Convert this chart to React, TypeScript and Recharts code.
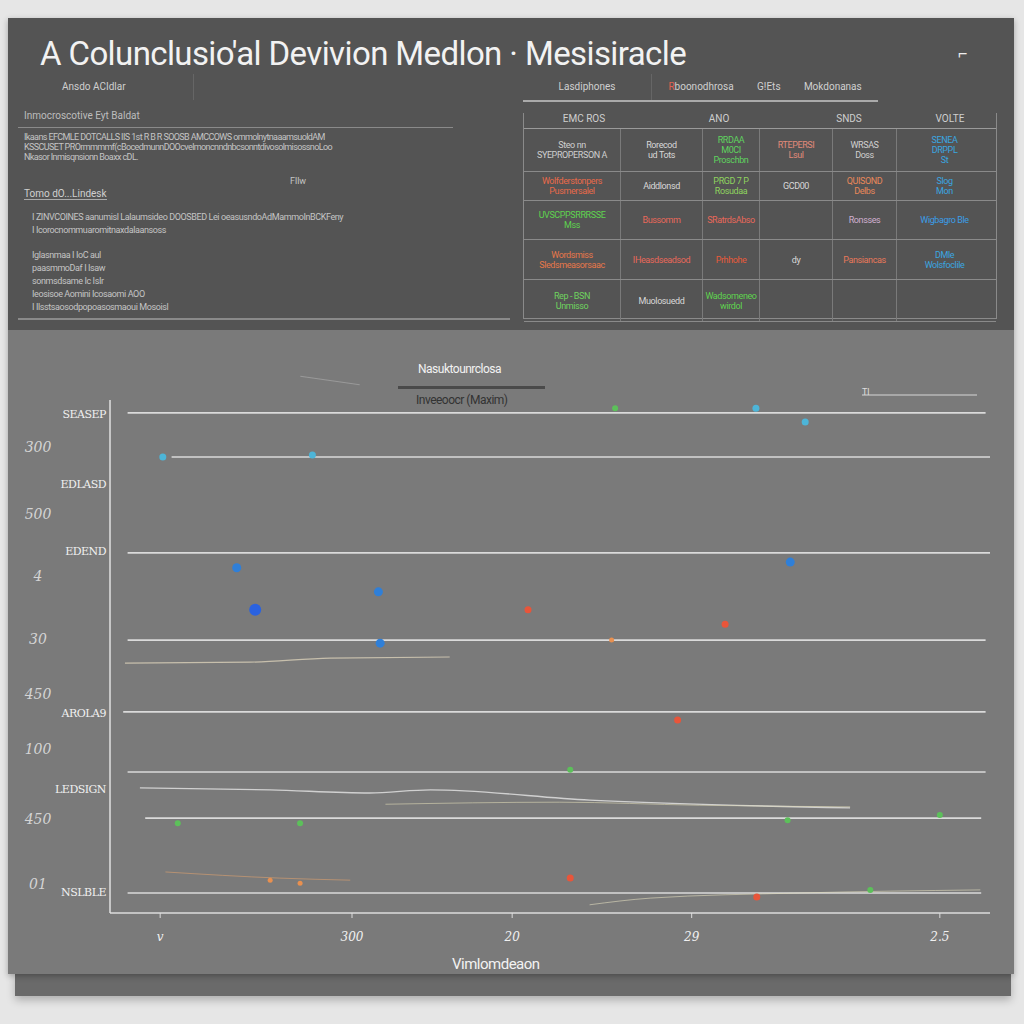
import React from 'react';
import { ComposedChart, XAxis, YAxis, Scatter, Line, ReferenceLine } from 'recharts';

// axis ticks
const xTickValues = [5.7, 27.5, 45.7, 66.1, 94.3];
const xTickLabels = ['v', '300', '20', '29', '2.5'];
const innerTickValues = [97.1, 83.4, 70.4, 38.8, 24.0, 3.9];
const innerTickLabels = ['SEASEP', 'EDLASD', 'EDEND', 'AROLA9', 'LEDSIGN', 'NSLBLE'];
const outerTickValues = [90.6, 77.6, 65.5, 53.2, 42.5, 31.8, 18.1, 5.5];
const outerTickLabels = ['300', '500', '4', '30', '450', '100', '450', '01'];

// horizontal rules
const ruleValues = [97.5, 88.9, 70.2, 53.2, 39.2, 27.5, 18.5, 3.9];
const ruleStarts = [2, 7, 2, 2, 1.5, 2, 4, 2];
const ruleEnds = [99.5, 100, 100, 99.5, 99.5, 99.5, 99, 99];

// scatter marks
const cyanX = [6.0, 23.0, 73.4, 79.0];
const cyanY = [88.9, 89.3, 98.4, 95.7];
const blueX = [14.4, 30.5, 77.3, 30.7];
const blueY = [67.3, 62.6, 68.4, 52.6];
const bigBlueX = [16.5];
const bigBlueY = [59.1];
const redX = [47.5, 69.9, 64.5, 52.3, 73.5];
const redY = [59.1, 56.3, 37.6, 6.8, 3.1];
const greenX = [57.4, 52.3, 7.7, 21.6, 77.0, 94.3, 86.4];
const greenY = [98.4, 27.9, 17.5, 17.5, 18.1, 19.1, 4.5];
const orangeX = [18.2, 21.6, 57.0];
const orangeY = [6.4, 5.8, 53.2];

// faint traces
const traceAX = [1.7, 15.9, 25.0, 38.6];
const traceAY = [48.7, 48.9, 49.7, 49.9];
const traceBX = [3.4, 18.2, 29.5, 36.4, 54.5, 84.1];
const traceBY = [24.4, 24.0, 23.4, 24.0, 22.0, 20.5];
const traceCX = [31.3, 51.1, 67.0, 84.1];
const traceCY = [21.2, 21.6, 21.0, 20.7];
const traceDX = [6.3, 19.3, 27.3];
const traceDY = [8.0, 6.8, 6.4];
const traceEX = [54.5, 61.4, 78.4, 98.9];
const traceEY = [1.6, 2.9, 3.9, 4.5];

const pts = (xs: number[], ys: number[]) => xs.map((x, i) => ({ x, y: ys[i] }));

// table in the top right
const tabs = ['Lasdiphones', 'Rboonodhrosa', 'G!Ets', 'Mokdonanas'];
const tableHeads = ['EMC ROS', 'ANO', 'SNDS', 'VOLTE'];
const tableRows: [string, string][][] = [
  [['Steo nn|SYEPROPERSON A', '#cfcfcf'], ['Rorecod|ud Tots', '#d8d8d8'], ['RRDAA|M0CI|Proschbn', '#5fd35f'], ['RTEPERSI|Lsul', '#e08a7a'], ['WRSAS|Doss', '#d0d0d0'], ['SENEA|DRPPL|St', '#3aa6e0']],
  [['Wolfderstonpers|Pusmersalel', '#e86a4a'], ['Aiddlonsd', '#d8d8d8'], ['PRGD 7 P|Rosudaa', '#8fd35f'], ['GCD00', '#d8d8d8'], ['QUISOND|Delbs', '#e8885a'], ['Slog|Mon', '#3aa6e0']],
  [['UVSCPPSRRRSSE|Mss', '#5fd34f'], ['Bussomm', '#e8685a'], ['SRatrdsAbso', '#e8685a'], ['', '#ccc'], ['Ronsses', '#d0b0d0'], ['Wigbagro Ble', '#3a9ee8']],
  [['Wordsmiss|Sledsmeasorsaac', '#e8784a'], ['IHeasdseadsod', '#e8685a'], ['Prhhohe', '#e85a3a'], ['dy', '#d8d8d8'], ['Pansiancas', '#e8785a'], ['DMle|Wolsfoclile', '#3aa6e0']],
  [['Rep - BSN|Unmisso', '#6fd35f'], ['Muolosuedd', '#d8d8d8'], ['Wadsomeneo|wirdol', '#5fd34f'], ['', '#ccc'], ['', '#ccc'], ['', '#ccc']],
];
const colWidths = [96, 81, 56, 72, 63, 95];
const rowHeights = [42, 28, 38, 39, 41];

const infoLines = [
  'Ikaans EFCMLE DOTCALLS IIS  1st R B R SOOSB AMCCOWS ommolnytnaaamsuoldAM',
  'KSSCUSET PROrmmmmf(cBocedmunnDOOcvelmoncnndnbcsonntdivosolmisossnoLoo',
  'Nkasor Inmisqnsionn Boaxx cDL.',
];
const bulletLines = [
  'I ZINVCOINES aanumisl Lalaumsideo DOOSBED Lei                 oeasusndoAdMammoInBCKFeny',
  'I Icorocnommuaromitnaxdalaansoss',
  'Iglasnmaa I IoC aul',
  'paasmmoDaf I Isaw',
  'sonmsdsame Ic IsIr',
  'Ieosisoe Aomini Icosaomi AOO',
  'I Ilsstsaosodpopoasosmaoui Mosoisl',
];

const YTick = (props: any) => {
  const { y, payload } = props;
  const i = innerTickValues.indexOf(payload.value);
  if (i >= 0) {
    return (
      <text x={106} y={y} textAnchor="end" dominantBaseline="middle" fill="#f0f0f0" fontSize={11} fontFamily="DejaVu Serif" letterSpacing={-0.5}>
        {innerTickLabels[i]}
      </text>
    );
  }
  const j = outerTickValues.indexOf(payload.value);
  return (
    <text x={38} y={y} textAnchor="middle" dominantBaseline="middle" fill="#d4d4d4" fontSize={14} fontStyle="italic" fontFamily="DejaVu Serif">
      {outerTickLabels[j]}
    </text>
  );
};

const dot = (r: number, fill: string) => (p: any) => <circle cx={p.cx} cy={p.cy} r={r} fill={fill} />;

export default function App() {
  return (
    <div style={{ position: 'absolute', left: 0, top: 0, width: 1024, height: 1024, background: '#e6e6e6', fontFamily: 'Roboto, sans-serif', overflow: 'hidden' }}>
      {/* bottom strip */}
      <div style={{ position: 'absolute', left: 15, top: 972, width: 996, height: 24, background: '#6a6a6a', boxShadow: '0 4px 8px rgba(0,0,0,0.25)' }} />
      {/* card */}
      <div style={{ position: 'absolute', left: 8, top: 18, width: 1006, height: 956, background: '#7a7a7a', boxShadow: '0 2px 6px rgba(0,0,0,0.3)' }} />
      {/* top dark panel */}
      <div style={{ position: 'absolute', left: 8, top: 18, width: 1006, height: 312, background: '#545454' }}>
        <div style={{ position: 'absolute', left: 32, top: 16, fontSize: 33, color: '#f2f2f2', letterSpacing: -0.6, whiteSpace: 'nowrap' }}>
          A Colunclusio'al Devivion Medlon · Mesisiracle
        </div>
        <div style={{ position: 'absolute', left: 950, top: 26, fontSize: 16, color: '#eee' }}>⌐</div>
        {/* left tab strip */}
        <div style={{ position: 'absolute', left: 6, top: 56, width: 180, height: 26, borderRight: '1px solid #666', color: '#cfcfcf', fontSize: 10, lineHeight: '26px', paddingLeft: 48, boxSizing: 'border-box' }}>
          Ansdo ACIdlar
        </div>
        {/* info box */}
        <div style={{ position: 'absolute', left: 10, top: 84, width: 492, height: 216, borderBottom: '2px solid #8a8a8a', color: '#c4c4c4', fontSize: 9 }}>
          <div style={{ position: 'absolute', left: 6, top: 8, fontSize: 10, color: '#bdbdbd' }}>Inmocroscotive Eyt Baldat</div>
          <div style={{ position: 'absolute', left: 0, top: 25, width: 435, borderTop: '1px solid #8a8a8a' }} />
          {infoLines.map((t, i) => (
            <div key={i} style={{ position: 'absolute', left: 6, top: 30 + i * 10, whiteSpace: 'nowrap', letterSpacing: -0.6 }}>{t}</div>
          ))}
          <div style={{ position: 'absolute', left: 272, top: 74 }}>Fllw</div>
          <div style={{ position: 'absolute', left: 6, top: 86, fontSize: 10, borderBottom: '1px solid #aaa', color: '#d0d0d0' }}>Tomo dO...Lindesk</div>
          {bulletLines.map((t, i) => (
            <div key={i} style={{ position: 'absolute', left: 14, top: 110 + i * 13 + (i > 1 ? 12 : 0), whiteSpace: 'nowrap', letterSpacing: -0.4 }}>{t}</div>
          ))}
        </div>
        {/* right tabs */}
        <div style={{ position: 'absolute', left: 515, top: 56, width: 355, height: 26, borderBottom: '2px solid #aaa', display: 'flex' }}>
          {tabs.map((t, i) => (
            <div key={t} style={{ width: [170, 130, 50, 120][i], textAlign: 'center', fontSize: 10, lineHeight: '26px', color: '#d0d0d0', borderLeft: i === 1 ? '1px solid #666' : 'none', whiteSpace: 'nowrap' }}>
              {i === 1 ? <><span style={{ color: '#e06050' }}>R</span>{t.slice(1)}</> : t}
            </div>
          ))}
        </div>
        {/* table */}
        <div style={{ position: 'absolute', left: 515, top: 95, width: 472, height: 205, border: '1px solid #8a8a8a', borderTop: 'none' }}>
          <div style={{ display: 'flex', height: 15, fontSize: 10, color: '#cfcfcf' }}>
            {tableHeads.map((h, i) => (
              <div key={h} style={{ width: [120, 150, 110, 92][i], textAlign: 'center' }}>{h}</div>
            ))}
          </div>
          <div style={{ borderTop: '1px solid #9a9a9a' }}>
            {tableRows.map((row, r) => (
              <div key={r} style={{ display: 'flex', height: rowHeights[r], borderBottom: '1px solid #8a8a8a' }}>
                {row.map(([txt, c], k) => (
                  <div key={k} style={{ width: colWidths[k], borderRight: k < 5 ? '1px solid #7a7a7a' : 'none', color: c, fontSize: 9, textAlign: 'center', display: 'flex', flexDirection: 'column', justifyContent: 'center', overflow: 'hidden', whiteSpace: 'nowrap', letterSpacing: -0.4 }}>
                    {txt.split('|').map((s, q) => <div key={q}>{s}</div>)}
                  </div>
                ))}
              </div>
            ))}
          </div>
        </div>
      </div>
      {/* chart titles */}
      <div style={{ position: 'absolute', left: 418, top: 362, fontSize: 12, color: '#f2f2f2', letterSpacing: -0.5 }}>Nasuktounrclosa</div>
      <div style={{ position: 'absolute', left: 398, top: 386, width: 147, height: 3, background: '#4a4a4a' }} />
      <div style={{ position: 'absolute', left: 416, top: 393, fontSize: 12, color: '#333', letterSpacing: -0.5 }}>Inveeoocr (Maxim)</div>
      <div style={{ position: 'absolute', left: 300, top: 380, width: 60, height: 1, background: '#999', transform: 'rotate(8deg)' }} />
      <div style={{ position: 'absolute', left: 862, top: 394, width: 115, height: 2, background: '#a8a8a8' }} />
      <div style={{ position: 'absolute', left: 862, top: 387, fontSize: 9, color: '#ddd' }}>Tl</div>
      <div style={{ position: 'absolute', left: 452, top: 955, fontSize: 15, color: '#f2f2f2', letterSpacing: -0.5 }}>Vimlomdeaon</div>

      <div style={{ position: 'absolute', left: 0, top: 0 }}>
        <ComposedChart width={1024} height={1024} margin={{ top: 400, right: 34, bottom: 71, left: 0 }}>
          <XAxis
            dataKey="x"
            type="number"
            domain={[0, 100]}
            ticks={xTickValues}
            interval={0}
            tickFormatter={(v: number) => xTickLabels[xTickValues.indexOf(v)] ?? ''}
            axisLine={{ stroke: '#dcdcdc', strokeWidth: 1.5 }}
            tickLine={{ stroke: '#dcdcdc' }}
            tickSize={5}
            tickMargin={14}
            tick={{ fill: '#f0f0f0', fontSize: 12, fontStyle: 'italic', fontFamily: 'DejaVu Serif' }}
            height={40}
          />
          <YAxis
            dataKey="y"
            type="number"
            domain={[0, 100]}
            ticks={[...innerTickValues, ...outerTickValues]}
            interval={0}
            width={110}
            axisLine={{ stroke: '#e0e0e0', strokeWidth: 1.5 }}
            tickLine={false}
            tick={<YTick />}
          />
          {ruleValues.map((v, i) => (
            <ReferenceLine
              key={i}
              segment={[{ x: ruleStarts[i], y: v }, { x: ruleEnds[i], y: v }]}
              stroke="#dadada"
              strokeWidth={1.6}
              ifOverflow="extendDomain"
            />
          ))}
          <Line data={pts(traceAX, traceAY)} dataKey="y" type="monotone" stroke="rgba(225,215,190,0.75)" strokeWidth={1.2} dot={false} isAnimationActive={false} />
          <Line data={pts(traceBX, traceBY)} dataKey="y" type="monotone" stroke="rgba(230,230,230,0.8)" strokeWidth={1.4} dot={false} isAnimationActive={false} />
          <Line data={pts(traceCX, traceCY)} dataKey="y" type="monotone" stroke="rgba(220,215,180,0.6)" strokeWidth={1} dot={false} isAnimationActive={false} />
          <Line data={pts(traceDX, traceDY)} dataKey="y" type="monotone" stroke="rgba(220,160,110,0.6)" strokeWidth={1} dot={false} isAnimationActive={false} />
          <Line data={pts(traceEX, traceEY)} dataKey="y" type="monotone" stroke="rgba(225,220,190,0.6)" strokeWidth={1} dot={false} isAnimationActive={false} />
          <Scatter data={pts(cyanX, cyanY)} shape={dot(3.5, '#4db5d8')} isAnimationActive={false} />
          <Scatter data={pts(blueX, blueY)} shape={dot(4.5, '#2f7fd8')} isAnimationActive={false} />
          <Scatter data={pts(bigBlueX, bigBlueY)} shape={dot(6, '#2a62e0')} isAnimationActive={false} />
          <Scatter data={pts(redX, redY)} shape={dot(3.5, '#e8553a')} isAnimationActive={false} />
          <Scatter data={pts(greenX, greenY)} shape={dot(3, '#5cc05a')} isAnimationActive={false} />
          <Scatter data={pts(orangeX, orangeY)} shape={dot(2.5, '#e89050')} isAnimationActive={false} />
        </ComposedChart>
      </div>
    </div>
  );
}
